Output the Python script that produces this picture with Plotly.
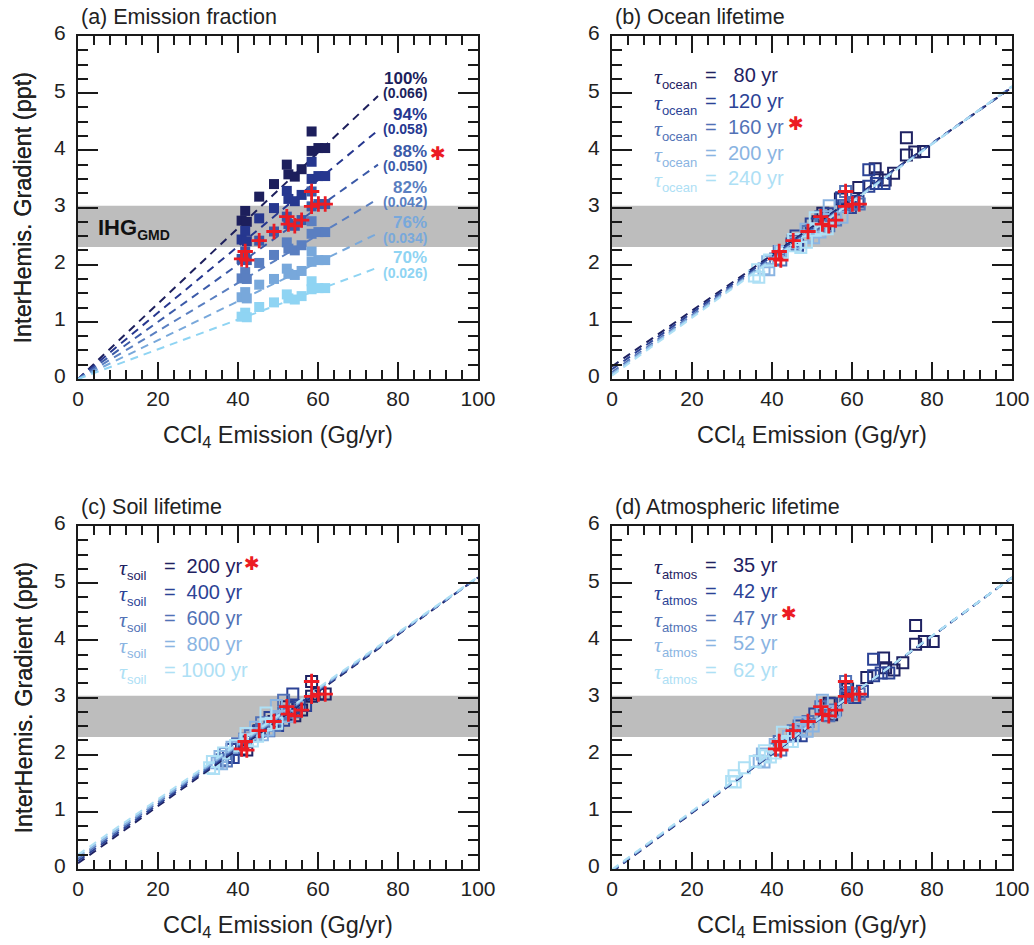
import plotly.graph_objects as go

# ---------------------------------------------------------------
# Data
# ---------------------------------------------------------------
# Reference case (88 % emission fraction, tau_ocean 160 yr,
# tau_soil 200 yr, tau_atmos 47 yr) -- red crosses
base_emis = [40.9, 41.8, 42.2, 45.3, 49.0, 52.2, 52.6, 54.2, 55.9, 58.4, 58.4, 60.1, 61.8]
base_ihg = [2.10, 2.23, 2.08, 2.42, 2.58, 2.84, 2.71, 2.68, 2.78, 3.28, 3.02, 3.06, 3.06]

# GMD observed inter-hemispheric gradient range (ppt)
ihg_gmd = [2.31, 3.03]

# (a) Emission fraction
frac_labels = ["100%", "94%", "88%", "82%", "76%", "70%"]
frac_slopes = [0.066, 0.058, 0.050, 0.042, 0.034, 0.026]
frac_ihg = [
    [2.77, 2.94, 2.75, 3.19, 3.41, 3.75, 3.58, 3.54, 3.67, 4.33, 3.99, 4.04, 4.04],
    [2.44, 2.59, 2.41, 2.81, 2.99, 3.29, 3.15, 3.11, 3.22, 3.80, 3.50, 3.55, 3.55],
    [2.10, 2.23, 2.08, 2.42, 2.58, 2.84, 2.71, 2.68, 2.78, 3.28, 3.02, 3.06, 3.06],
    [1.76, 1.87, 1.75, 2.03, 2.17, 2.39, 2.28, 2.25, 2.34, 2.76, 2.54, 2.57, 2.57],
    [1.43, 1.52, 1.41, 1.65, 1.75, 1.93, 1.84, 1.82, 1.89, 2.23, 2.05, 2.08, 2.08],
    [1.09, 1.16, 1.08, 1.26, 1.34, 1.48, 1.41, 1.39, 1.45, 1.71, 1.57, 1.59, 1.59],
]
frac_line_end = 75.0

# (b) Ocean lifetime
ocean_tau = [80, 120, 160, 200, 240]
ocean_emis = [
    [51.5, 52.7, 53.2, 57.1, 61.7, 65.8, 66.3, 68.3, 70.4, 73.6, 73.6, 75.7, 77.9],
    [45.0, 46.0, 46.4, 49.8, 53.9, 57.4, 57.9, 59.6, 61.5, 64.2, 64.2, 66.1, 68.0],
    [40.9, 41.8, 42.2, 45.3, 49.0, 52.2, 52.6, 54.2, 55.9, 58.4, 58.4, 60.1, 61.8],
    [38.0, 38.9, 39.2, 42.1, 45.6, 48.5, 48.9, 50.4, 52.0, 54.3, 54.3, 55.9, 57.5],
    [35.6, 36.4, 36.7, 39.4, 42.6, 45.4, 45.8, 47.2, 48.6, 50.8, 50.8, 52.3, 53.8],
]
ocean_ihg = [
    [2.75, 2.90, 2.72, 3.15, 3.35, 3.68, 3.52, 3.48, 3.60, 4.22, 3.92, 3.97, 3.98],
    [2.36, 2.50, 2.34, 2.71, 2.89, 3.17, 3.03, 3.00, 3.11, 3.66, 3.37, 3.42, 3.42],
    [2.10, 2.23, 2.08, 2.42, 2.58, 2.84, 2.71, 2.68, 2.78, 3.28, 3.02, 3.06, 3.06],
    [1.93, 2.05, 1.91, 2.23, 2.38, 2.62, 2.50, 2.47, 2.57, 3.03, 2.79, 2.83, 2.83],
    [1.80, 1.91, 1.78, 2.08, 2.21, 2.44, 2.33, 2.30, 2.39, 2.82, 2.60, 2.63, 2.63],
]
ocean_fit = [(0.22, 0.0488), (0.17, 0.0494), (0.12, 0.0499), (0.09, 0.0503), (0.06, 0.0506)]

# (c) Soil lifetime
soil_tau = [200, 400, 600, 800, 1000]
soil_emis = [
    [40.9, 41.8, 42.2, 45.3, 49.0, 52.2, 52.6, 54.2, 55.9, 58.4, 58.4, 60.1, 61.8],
    [37.6, 38.5, 38.8, 41.7, 45.1, 48.0, 48.4, 49.9, 51.4, 53.7, 53.7, 55.3, 56.9],
    [36.0, 36.8, 37.1, 39.9, 43.1, 45.9, 46.3, 47.7, 49.2, 51.4, 51.4, 52.9, 54.4],
    [34.8, 35.5, 35.9, 38.5, 41.7, 44.4, 44.7, 46.1, 47.5, 49.6, 49.6, 51.1, 52.5],
    [32.9, 33.6, 33.9, 36.4, 39.4, 42.0, 42.3, 43.6, 44.9, 47.0, 47.0, 48.3, 49.7],
]
soil_ihg = [
    [2.10, 2.23, 2.08, 2.42, 2.58, 2.84, 2.71, 2.68, 2.78, 3.28, 3.02, 3.06, 3.06],
    [1.97, 2.09, 1.95, 2.27, 2.41, 2.65, 2.53, 2.51, 2.60, 3.06, 2.82, 2.86, 2.86],
    [1.91, 2.02, 1.89, 2.19, 2.33, 2.56, 2.44, 2.42, 2.51, 2.95, 2.72, 2.75, 2.75],
    [1.86, 1.97, 1.84, 2.13, 2.26, 2.48, 2.37, 2.35, 2.43, 2.86, 2.64, 2.67, 2.67],
    [1.77, 1.88, 1.76, 2.03, 2.16, 2.37, 2.26, 2.24, 2.32, 2.73, 2.52, 2.55, 2.55],
]
soil_fit = [(0.10, 0.0500), (0.14, 0.0496), (0.18, 0.0492), (0.21, 0.0489), (0.25, 0.0486)]

# (d) Atmospheric lifetime
atmos_tau = [35, 42, 47, 52, 62]
atmos_emis = [
    [53.2, 54.3, 54.9, 58.9, 63.7, 67.9, 68.4, 70.5, 72.7, 75.9, 75.9, 78.1, 80.3],
    [45.8, 46.8, 47.3, 50.7, 54.9, 58.5, 58.9, 60.7, 62.6, 65.4, 65.4, 67.3, 69.2],
    [40.9, 41.8, 42.2, 45.3, 49.0, 52.2, 52.6, 54.2, 55.9, 58.4, 58.4, 60.1, 61.8],
    [36.8, 37.6, 38.0, 40.8, 44.1, 47.0, 47.3, 48.8, 50.3, 52.6, 52.6, 54.1, 55.6],
    [29.9, 30.5, 30.8, 33.1, 35.8, 38.1, 38.4, 39.6, 40.8, 42.6, 42.6, 43.9, 45.1],
]
atmos_ihg = [
    [2.73, 2.90, 2.70, 3.15, 3.35, 3.69, 3.52, 3.48, 3.61, 4.26, 3.93, 3.98, 3.98],
    [2.35, 2.50, 2.33, 2.71, 2.89, 3.18, 3.04, 3.00, 3.11, 3.67, 3.38, 3.43, 3.43],
    [2.10, 2.23, 2.08, 2.42, 2.58, 2.84, 2.71, 2.68, 2.78, 3.28, 3.02, 3.06, 3.06],
    [1.89, 2.01, 1.87, 2.18, 2.32, 2.56, 2.44, 2.41, 2.50, 2.95, 2.72, 2.75, 2.75],
    [1.53, 1.63, 1.52, 1.77, 1.88, 2.07, 1.98, 1.96, 2.03, 2.39, 2.20, 2.23, 2.23],
]
atmos_fit = [(-0.05, 0.0515), (-0.04, 0.0514), (-0.03, 0.0513), (-0.02, 0.0512), (-0.01, 0.0511)]

x_ticks = [0, 20, 40, 60, 80, 100]
y_ticks = [0, 1, 2, 3, 4, 5, 6]

# ---------------------------------------------------------------
# Styling
# ---------------------------------------------------------------
W, H = 1034, 945
FONT = "Liberation Sans, Arial, Helvetica, sans-serif"
INK = "#1a1a1a"
TXT = "#222222"
RED = "#ec1c24"
BAND = "#bdbdbd"
SHADES6 = ["#1d1f5c", "#26378f", "#3b5aa8", "#5a7fc1", "#78a8db", "#8fd4f3"]
SHADES5 = ["#1f2262", "#2c4396", "#5272b6", "#8ab4e2", "#aee0f5"]
DASH = "8px,6px"
NBSP = "\u00a0"

# plot frames in pixels: left, right, top, bottom
FRAMES = {
    "a": (78, 478, 36, 379),
    "b": (612, 1012, 36, 379),
    "c": (78, 478, 526, 869),
    "d": (612, 1012, 526, 869),
}
AXES = {"a": ("x", "y", ""), "b": ("x2", "y2", "2"), "c": ("x3", "y3", "3"), "d": ("x4", "y4", "4")}


def fx(px):
    return px / W


def fy(py):
    return 1 - py / H


def note(text, px, py, size, color=TXT, xanchor="center", yanchor="middle", family=FONT, **kw):
    annotations.append(dict(
        text=text, x=fx(px), y=fy(py), xref="paper", yref="paper",
        xanchor=xanchor, yanchor=yanchor, showarrow=False,
        font=dict(family=family, size=size, color=color), **kw))


fig = go.Figure()
annotations = []
shapes = []


def add_axes(key):
    left, right, top, bottom = FRAMES[key]
    xa, ya, sfx = AXES[key]
    tickfont = dict(family=FONT, size=21, color=TXT)
    common = dict(
        ticks="inside", tickwidth=1.6, tickcolor=INK,
        showline=True, linewidth=2, linecolor=INK, mirror="ticks",
        showgrid=False, zeroline=False, tickfont=tickfont,
        automargin=False, fixedrange=True, tickmode="array",
    )
    fig.layout["xaxis" + sfx] = dict(
        domain=[fx(left), fx(right)], anchor=ya, range=[0, 100],
        tickvals=x_ticks, ticklen=17,
        minor=dict(ticks="inside", ticklen=9, tickwidth=1.6, tickcolor=INK,
                   dtick=4, tick0=0, showgrid=False),
        ticklabelstandoff=0, **common,
    )
    fig.layout["yaxis" + sfx] = dict(
        domain=[fy(bottom), fy(top)], anchor=xa, range=[0, 6],
        tickvals=y_ticks, ticklen=20,
        minor=dict(ticks="inside", ticklen=10, tickwidth=1.6, tickcolor=INK,
                   dtick=0.25, tick0=0, showgrid=False),
        ticklabelstandoff=6, ticklabelshift=-3, **common,
    )
    # observed IHG band
    shapes.append(dict(type="rect", xref=xa, yref=ya, x0=0, x1=100,
                       y0=ihg_gmd[0], y1=ihg_gmd[1], fillcolor=BAND,
                       line=dict(width=0), layer="below"))
    # axis titles
    note("InterHemis. Gradient (ppt)", 23, (top + bottom) / 2, 23.5, textangle=-90)
    note("CCl<sub>4</sub> Emission (Gg/yr)", (left + right) / 2, bottom + 57, 23.5)


def add_title(key, text):
    left, right, top, bottom = FRAMES[key]
    note(text, left + 1, top - 19, 21.5, xanchor="left")


def add_crosses(key):
    xa, ya, _ = AXES[key]
    fig.add_trace(go.Scatter(
        x=base_emis, y=base_ihg, mode="markers", xaxis=xa, yaxis=ya,
        marker=dict(symbol="cross-thin", size=11, line=dict(color=RED, width=2.8)),
        showlegend=False, hoverinfo="skip"))


def add_star(px, py):
    note("\u2731", px, py, 19, color=RED, family="DejaVu Sans")


for k in "abcd":
    add_axes(k)

# ---------------- (a) emission fraction ----------------
xa, ya, _ = AXES["a"]
for i, slope in enumerate(frac_slopes):
    fig.add_trace(go.Scatter(
        x=[0, frac_line_end], y=[0, slope * frac_line_end], mode="lines",
        xaxis=xa, yaxis=ya, line=dict(color=SHADES6[i], width=2, dash=DASH),
        showlegend=False, hoverinfo="skip"))
for i, ys in enumerate(frac_ihg):
    fig.add_trace(go.Scatter(
        x=base_emis, y=ys, mode="markers", xaxis=xa, yaxis=ya,
        marker=dict(symbol="square", size=10, color=SHADES6[i], line=dict(width=0)),
        showlegend=False, hoverinfo="skip"))
add_crosses("a")
add_title("a", "(a) Emission fraction")

label_y = [78, 114, 151, 187, 223, 258]
for i, lab in enumerate(frac_labels):
    note("<b>%s</b>" % lab, 429, label_y[i], 17, color=SHADES6[i], xanchor="right")
    note("<b>(%.3f)</b>" % frac_slopes[i], 429, label_y[i] + 15, 14,
         color=SHADES6[i], xanchor="right")
add_star(438, 153)
note("<b>IHG<sub><span style='font-size:14px'>GMD</span></sub></b>", 96, 229, 22,
     color="#111", xanchor="left")


# ---------------- (b)-(d) lifetime panels ----------------
def lifetime_panel(key, emis, ihg, fit, taus, sub, title, tau_x, eq_x, val_x, rows_y, star_xy):
    xa, ya, _ = AXES[key]
    for i in range(len(emis)):
        fig.add_trace(go.Scatter(
            x=emis[i], y=ihg[i], mode="markers", xaxis=xa, yaxis=ya,
            marker=dict(symbol="square-open", size=11, color=SHADES5[i],
                        line=dict(width=2, color=SHADES5[i])),
            showlegend=False, hoverinfo="skip"))
    for i, (b0, b1) in enumerate(fit):
        fig.add_trace(go.Scatter(
            x=[0, 100], y=[b0, b0 + b1 * 100], mode="lines", xaxis=xa, yaxis=ya,
            line=dict(color=SHADES5[i], width=2, dash=DASH),
            showlegend=False, hoverinfo="skip"))
    add_crosses(key)
    add_title(key, title)
    width = max(len(str(t)) for t in taus)
    for i, tau in enumerate(taus):
        col = SHADES5[i]
        note("<span style='font-family:Liberation Serif'><i>\u03c4</i></span>"
             "<sub><span style='font-size:13px'>%s</span></sub>" % sub,
             tau_x, rows_y[i] + 3, 22, color=col, xanchor="left")
        note("=", eq_x, rows_y[i], 20, color=col)
        pad = NBSP * (width - len(str(tau)))
        note("%s%d yr" % (pad, tau), val_x, rows_y[i], 20, color=col, xanchor="left")
    add_star(*star_xy)


lifetime_panel("b", ocean_emis, ocean_ihg, ocean_fit, ocean_tau, "ocean", "(b) Ocean lifetime",
               652, 711, 726, [75, 101, 127, 153, 178], (796, 123))
lifetime_panel("c", soil_emis, soil_ihg, soil_fit, soil_tau, "soil", "(c) Soil lifetime",
               117, 170, 179, [566, 592, 618, 644, 670], (252, 563))
lifetime_panel("d", atmos_emis, atmos_ihg, atmos_fit, atmos_tau, "atmos", "(d) Atmospheric lifetime",
               652, 711, 731, [565, 591, 618, 643, 670], (789, 613))

fig.update_layout(
    width=W, height=H,
    margin=dict(l=0, r=0, t=0, b=0, pad=0, autoexpand=False),
    paper_bgcolor="white", plot_bgcolor="white",
    annotations=annotations, shapes=shapes,
    font=dict(family=FONT, color=TXT),
)

fig.write_html("out.html")
